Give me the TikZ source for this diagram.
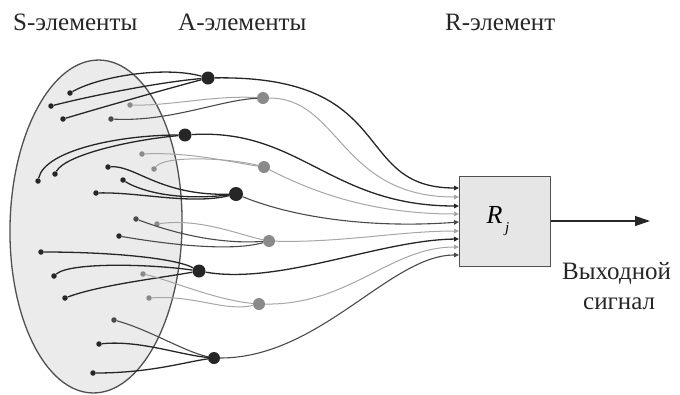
\documentclass[tikz,border=0pt]{standalone}
\usepackage{fontspec}
\setmainfont{Liberation Serif}
\usetikzlibrary{arrows.meta,shapes.geometric}
\definecolor{dk}{HTML}{262626}
\definecolor{md}{HTML}{4A4A4A}
\definecolor{lt}{HTML}{8A8A8A}
\definecolor{ltl}{HTML}{A6A6A6}
\definecolor{fillg}{HTML}{EBEBEB}
\definecolor{boxg}{HTML}{E6E6E6}
\definecolor{edge}{HTML}{505050}
\tikzset{
  sdot/.style={circle,inner sep=0pt,minimum size=5.5pt,fill=dk},
  smdot/.style={sdot,fill=md},
  sgdot/.style={sdot,fill=lt},
  adot/.style={circle,inner sep=0pt,minimum size=13pt,fill=dk},
  agdot/.style={circle,inner sep=0pt,minimum size=12pt,fill=lt},
  dline/.style={draw=dk,line width=1.3pt},
  mline/.style={draw=md,line width=1.1pt},
  gline/.style={draw=ltl,line width=1pt},
  lbl/.style={anchor=base west,inner sep=0pt,font=\fontsize{25}{30}\selectfont,text=dk},
  intip/.style={-{Triangle[length=5pt,width=4.5pt]}},
}
\begin{document}
\begin{tikzpicture}[x=1pt,y=-1pt]
\useasboundingbox (0,0) rectangle (680,394);

% S-set ellipse
\node[draw=edge,fill=fillg,line width=1.3pt,ellipse,minimum width=172pt,minimum height=333pt,inner sep=0pt,rotate=-1.2] (Sset) at (96,226.5) {};

% labels
\node[lbl] (lS) at (13,30) {S-элементы};
\node[lbl] (lA) at (178,30) {A-элементы};
\node[lbl] (lR) at (445,30) {R-элемент};
\node[lbl] (lout1) at (562,279) {Выходной};
\node[lbl] (lout2) at (583,309) {сигнал};

% R element
\node[draw=edge,fill=boxg,line width=1pt,minimum width=91pt,minimum height=90pt,inner sep=0pt] (R) at (504.5,221) {};
\node[font=\fontsize{26}{30}\selectfont,inner sep=0pt] (Rl) at (498,221) {\itshape R\raisebox{-0.35em}{\fontsize{15}{15}\selectfont\,j}};
\coordinate (out) at (650,221);
\draw[draw=dk,line width=1.3pt,-{Triangle[length=15pt,width=10pt]}] (R.east) -- (out);

% R inputs
\coordinate (in1) at (459,188);
\coordinate (in2) at (459,197);
\coordinate (in3) at (459,206);
\coordinate (in4) at (459,214);
\coordinate (in5) at (459,222);
\coordinate (in6) at (459,231);
\coordinate (in7) at (459,239);
\coordinate (in8) at (459,247);
\coordinate (in9) at (459,255);

% A elements
\node[adot] (a1) at (208,78) {};
\node[agdot] (a6) at (263,98) {};
\node[adot] (a2) at (185,135) {};
\node[agdot] (a7) at (264,167) {};
\node[adot,minimum size=14pt] (a3) at (236,194) {};
\node[agdot] (a8) at (269,241) {};
\node[adot] (a4) at (199,271) {};
\node[agdot] (a9) at (259,304) {};
\node[adot,minimum size=12pt] (a5) at (214,358) {};

% S elements
\node[sdot] (s1) at (70,93) {};
\node[sdot] (s2) at (51,106) {};
\node[sdot] (s3) at (63,119) {};
\node[sgdot] (g1) at (130,105) {};
\node[smdot] (s4) at (111,119) {};
\node[sdot] (s5) at (38,181) {};
\node[sdot] (s6) at (55,174) {};
\node[sgdot] (g2) at (142,154) {};
\node[sgdot] (g3) at (154,169) {};
\node[sdot] (s7) at (108,167) {};
\node[sdot] (s8) at (123,180) {};
\node[sdot] (s9) at (96,193) {};
\node[smdot] (g4) at (136,219) {};
\node[sgdot] (g5) at (157,224) {};
\node[sdot] (s10) at (119,236) {};
\node[sdot] (s11) at (41,252) {};
\node[sdot] (s12) at (54,276) {};
\node[sdot] (s13) at (65,298) {};
\node[sgdot] (g6) at (143,274) {};
\node[sgdot] (g7) at (149,298) {};
\node[smdot] (s14) at (114,320) {};
\node[sdot] (s15) at (99,344) {};
\node[sdot] (s16) at (93,373) {};

% S -> A connections
\draw[dline] (s1) .. controls (100,76) and (165,66) .. (a1);
\draw[dline] (s2) .. controls (90,96) and (160,82) .. (a1);
\draw[dline] (s3) .. controls (110,105) and (170,88) .. (a1);
\draw[gline] (g1) .. controls (170,106) and (215,95) .. (a6);
\draw[mline] (s4) .. controls (170,122) and (220,100) .. (a6);
\draw[dline] (s5) .. controls (45,150) and (120,135) .. (a2);
\draw[dline] (s6) .. controls (65,155) and (130,140) .. (a2);
\draw[gline] (g2) .. controls (190,152) and (230,162) .. (a7);
\draw[gline] (g3) .. controls (165,155) and (230,158) .. (a7);
\draw[dline] (s7) .. controls (135,165) and (160,196) .. (a3);
\draw[dline] (s8) .. controls (135,188) and (170,202) .. (a3);
\draw[dline] (s9) .. controls (140,192) and (190,205) .. (a3);
\draw[mline] (g4) .. controls (160,228) and (210,245) .. (a8);
\draw[gline] (g5) .. controls (200,218) and (240,235) .. (a8);
\draw[mline] (s10) .. controls (165,244) and (230,252) .. (a8);
\draw[dline] (s11) .. controls (110,252) and (175,258) .. (a4);
\draw[dline] (s12) .. controls (70,262) and (150,264) .. (a4);
\draw[dline] (s13) .. controls (100,285) and (160,278) .. (a4);
\draw[gline] (g6) .. controls (170,280) and (215,300) .. (a9);
\draw[gline] (g7) .. controls (195,295) and (225,312) .. (a9);
\draw[mline] (s14) .. controls (150,330) and (185,352) .. (a5);
\draw[dline] (s15) .. controls (140,340) and (180,355) .. (a5);
\draw[dline] (s16) .. controls (150,373) and (185,362) .. (a5);

% A -> R connections
\draw[dline,intip] (a1) .. controls (400,75) and (350,188) .. (in1);
\draw[gline,intip] (a6) .. controls (340,98) and (340,197) .. (in2);
\draw[dline,intip] (a2) .. controls (300,128) and (330,206) .. (in3);
\draw[gline,intip] (a7) .. controls (300,185) and (360,214) .. (in4);
\draw[mline,intip] (a3) .. controls (300,220) and (380,228) .. (in5);
\draw[gline,intip] (a8) .. controls (340,243) and (400,231) .. (in6);
\draw[dline,intip] (a4) .. controls (280,285) and (380,240) .. (in7);
\draw[gline,intip] (a9) .. controls (350,305) and (390,247) .. (in8);
\draw[mline,intip] (a5) .. controls (320,358) and (390,255) .. (in9);
\end{tikzpicture}
\end{document}
